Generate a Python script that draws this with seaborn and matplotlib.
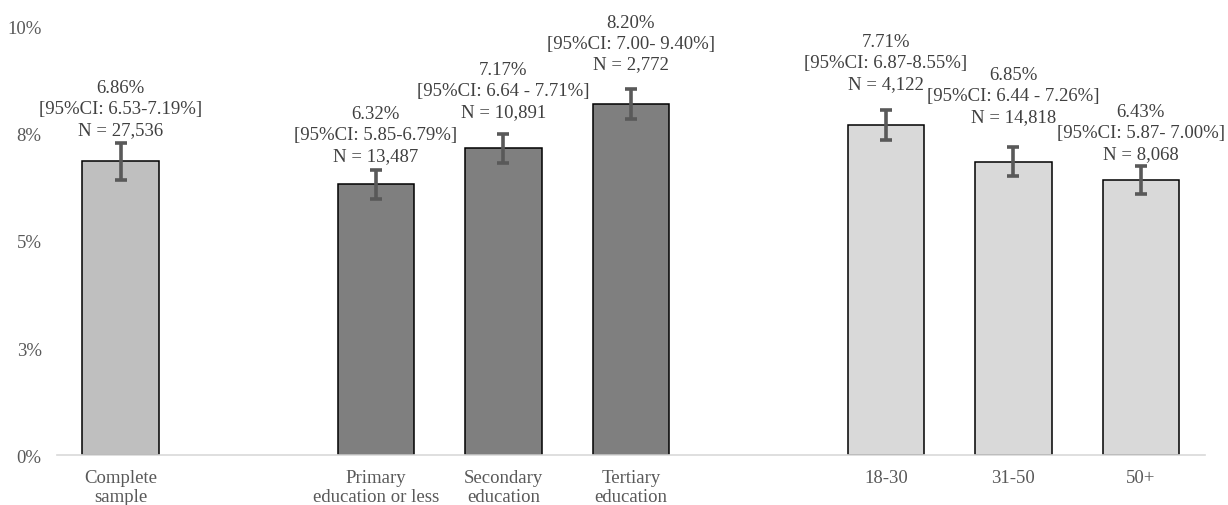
import numpy as np
import pandas as pd
import matplotlib
matplotlib.use("Agg")
import matplotlib.pyplot as plt
import seaborn as sns

# category slots (blank strings keep the gaps between groups)
order = ["Complete\nsample", "", "Primary\neducation or less", "Secondary\neducation",
         "Tertiary\neducation", " ", "18-30", "31-50", "50+"]

categories = ["Complete\nsample", "Primary\neducation or less", "Secondary\neducation",
              "Tertiary\neducation", "18-30", "31-50", "50+"]
groups = ["all", "edu", "edu", "edu", "age", "age", "age"]
values = [6.86, 6.32, 7.17, 8.20, 7.71, 6.85, 6.43]
errors = [0.43, 0.33, 0.34, 0.34, 0.34, 0.34, 0.33]
ci_low = ["6.53", "5.85", "6.64", "7.00", "6.87", "6.44", "5.87"]
ci_high = ["7.19", "6.79", "7.71", "9.40", "8.55", "7.26", "7.00"]
ci_sep = ["-", "-", " - ", "- ", "-", " - ", "- "]
n_obs = ["27,536", "13,487", "10,891", "2,772", "4,122", "14,818", "8,068"]

yticks = [0, 2.5, 5, 7.5, 10]
ytick_labels = ["0%", "3%", "5%", "8%", "10%"]

# label offsets above bar tops (pixels), as placed in the original
label_pad = [53, 50, 58, 61, 62, 66, 47]
line_step = 21

df = pd.DataFrame({"cat": categories, "group": groups, "value": values})

sns.set_style("white")
plt.rcParams["font.family"] = ["Liberation Serif", "DejaVu Serif"]

fig = plt.figure(figsize=(12.28, 5.06), dpi=100)
ax = fig.add_axes([0.0464, 0.0988, 0.9346, 0.8459])

palette = {"all": "#bfbfbf", "edu": "#7f7f7f", "age": "#d9d9d9"}
sns.barplot(data=df, x="cat", y="value", hue="group", order=order, palette=palette,
            dodge=False, width=0.6, edgecolor="black", linewidth=1.1,
            legend=False, ax=ax)

# error bars at the category positions
pos = {lab.get_text(): t for t, lab in zip(ax.get_xticks(), ax.get_xticklabels())}
xs = [pos[c] for c in categories]
ax.errorbar(xs, values, yerr=errors, fmt="none", ecolor="#595959",
            elinewidth=2.6, capsize=4, capthick=2.6, zorder=5)

# three-line data labels, one text per line
for x, v, lo, sep, hi, n, pad in zip(xs, values, ci_low, ci_sep, ci_high, n_obs, label_pad):
    lines = [f"{v:.2f}%", f"[95%CI: {lo}{sep}{hi}%]", f"N = {n}"]
    for k, line in enumerate(lines):
        ax.annotate(line, (x, v), xytext=(0, pad + line_step * (1 - k)),
                    textcoords="offset pixels", ha="center", va="center",
                    fontsize=13.5, color="#404040")

ax.set_ylim(0, 10)
ax.set_xlim(-0.5, 8.5)
ax.set_yticks(yticks)
ax.set_yticklabels(ytick_labels)
ax.set_xlabel("")
ax.set_ylabel("")
ax.tick_params(axis="both", length=0, labelsize=13.5, labelcolor="#595959")
ax.tick_params(axis="y", pad=11)
ax.tick_params(axis="x", pad=10)
for lab in ax.get_xticklabels():
    lab.set_linespacing(1.15)

for s in ["top", "right", "left"]:
    ax.spines[s].set_visible(False)
ax.spines["bottom"].set_color("#d9d9d9")
ax.spines["bottom"].set_linewidth(1.2)

fig.savefig("out.png", dpi=100)
